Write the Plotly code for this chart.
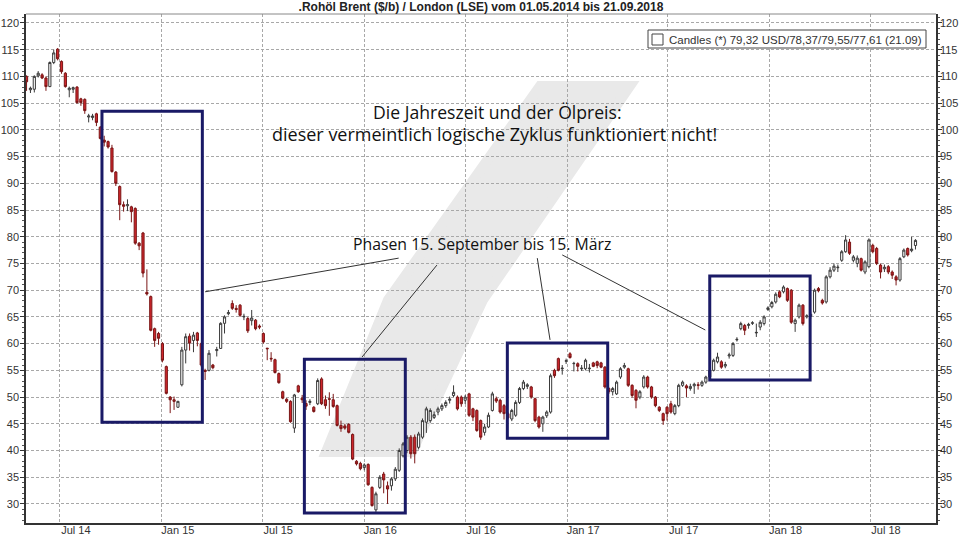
import pandas as pd
import plotly.graph_objects as go

# ---------------- data (weekly candles) ----------------
opens = [110, 107.5, 107.6, 110.1, 110.3, 109.7, 108.1, 112.6, 115.1, 112.8,
         110.6, 107.5, 107.6, 108, 105.8, 105.7, 102.4, 102.3, 103, 100.5,
         98.1, 97.8, 96.6, 92.1, 89.4, 86, 85.8, 85.6, 85.3, 78.8,
         80.7, 69.6, 68.8, 62.8, 61.9, 60, 55.7, 50, 49.5, 48.1,
         52.3, 58.8, 61.4, 60.6, 62, 60, 55, 55, 56, 58.7,
         59.1, 63.8, 65.6, 67.5, 66.6, 67.2, 65, 64.7, 64.3, 64.4,
         63.3, 61.9, 59.15, 57.25, 57, 54.4, 51, 49.6, 49.2, 44.2,
         52.1, 49.8, 48.8, 49, 48.1, 48.75, 53.4, 49.5, 49.7, 49.5,
         48.4, 44.7, 44.6, 44.9, 43, 38, 37.6, 36.8, 37.4, 33.1,
         28.9, 33.1, 35.6, 33.4, 33.4, 34.7, 36.3, 39, 40, 42.5,
         42.5, 40.6, 42.5, 45.3, 45.6, 46.2, 47.2, 47.8, 48.4, 49.4,
         50.3, 50, 50, 49.4, 50.6, 47.8, 47.5, 45.6, 43.4, 44.4,
         47.5, 49.7, 49.4, 48.4, 46.9, 45.9, 46.6, 49, 51.6, 52,
         51.9, 49.7, 46.25, 45, 46.5, 47.2, 55, 57.2, 55.3, 56.7,
         58.1, 56.25, 56.25, 55.3, 55.3, 55.3, 56.4, 56.6, 56.4, 55.6,
         51.6, 51, 50.6, 53.75, 55.6, 55.3, 52.2, 51.25, 50, 51.9,
         53.75, 51.9, 50, 48.1, 46.9, 48.1, 48.75, 46.9, 48.4, 52.2,
         52.1, 51.6, 52.1, 52.3, 52.2, 52.8, 53.75, 55, 56.6, 56.6,
         55.8, 57.7, 57.8, 60.7, 62.8, 63.4, 63.4, 63.8, 62, 63.1,
         63.75, 66.4, 66.9, 67.8, 69.7, 69.7, 70.3, 70, 63.75, 65,
         67.2, 65, 65.1, 65.9, 70.3, 68.1, 67.8, 72.5, 73.75, 74.2,
         75.6, 77.2, 79, 75.6, 75, 75.9, 73.4, 74.4, 78.4, 77.8,
         74.7, 74, 74.4, 73.4, 72.5, 71.9, 76.25, 77.8, 77.4, 78.37]
highs = [110.2, 108.1, 110.2, 111, 110.6, 110, 112.8, 115, 115.3, 113,
         110.8, 108.1, 108.1, 108.2, 106, 105.9, 103, 103, 103.2, 100.7,
         98.9, 98, 97.2, 92.3, 89.6, 86.6, 87, 85.8, 85.5, 79,
         80.9, 73.9, 69, 63, 62.2, 60.3, 55.9, 50.2, 50.1, 49.3,
         59.4, 61.9, 61.9, 62.2, 62.2, 60.2, 55.3, 58.8, 56.2, 59.4,
         64, 65.3, 66.3, 68.1, 67.2, 67.4, 65.6, 65, 66.3, 64.6,
         63.6, 62.1, 59.2, 58.4, 57.2, 54.6, 51.2, 49.8, 49.4, 50.6,
         52.3, 50.4, 49.4, 49.6, 48.3, 53.5, 53.7, 50.3, 50.9, 50.6,
         48.6, 45.6, 45, 45.1, 43.2, 38.2, 37.9, 37.6, 37.6, 33.3,
         32.3, 35.4, 36, 34.2, 35, 36.9, 40.4, 41.6, 42.9, 42.9,
         43, 43.5, 46, 48.2, 47.9, 47.3, 48.2, 48.8, 49.4, 50.1,
         52.2, 50.3, 50.3, 50.4, 50.8, 48, 47.7, 45.8, 45, 47.1,
         51, 50.1, 49.7, 48.7, 47.2, 47.8, 49.4, 51.9, 53.2, 52.6,
         52.1, 49.9, 46.5, 46.5, 47.5, 54.4, 55.3, 57.4, 56, 57.2,
         58.4, 56.6, 56.5, 56, 57.2, 56.2, 56.6, 56.8, 56.6, 55.8,
         51.9, 51.9, 53.1, 55.6, 56.4, 55.5, 52.4, 51.5, 51.3, 54.1,
         54, 52.1, 50.2, 48.3, 47.1, 48.3, 49.3, 48.7, 52.5, 53.1,
         52.4, 52.5, 52.7, 52.8, 53.1, 54, 55.3, 57.2, 58.3, 56.9,
         56.6, 58.3, 60.3, 61.2, 64.1, 63.7, 63.9, 64.2, 63.75, 64.4,
         65.3, 67, 68, 69.6, 70, 70.9, 70.5, 70.2, 64.7, 67.5,
         67.4, 65.5, 66, 70.3, 70.6, 68.4, 72.8, 74.3, 75, 74.8,
         77.5, 80.3, 79.6, 76.6, 76.5, 76.1, 75.6, 79.7, 78.7, 78.1,
         75, 74.8, 74.7, 73.7, 72.8, 76.2, 77.8, 78, 80, 79.55]
lows = [107.3, 106.9, 107, 109.8, 109.5, 107.3, 108, 112.3, 113, 110.5,
        107.9, 106.1, 106.9, 104.9, 104.5, 103, 101.4, 101.8, 100.7, 98.2,
        96.9, 96.5, 92, 89.5, 83.1, 84.7, 84.8, 82.7, 78.5, 77.5,
        72.4, 69, 62.3, 59.4, 59.8, 56.5, 50.5, 47, 47.6, 48,
        52, 56.3, 58.7, 58.4, 59.5, 55.7, 53.2, 54.8, 55.2, 57.6,
        59, 61.9, 65.3, 66.3, 65.8, 65, 64.4, 62, 63.4, 62.5,
        62.7, 60, 56.9, 56.6, 54.4, 52.5, 49.6, 48.9, 45.2, 43.3,
        50.8, 48.9, 47.6, 48.5, 47.1, 48.5, 48.5, 47.8, 46.5, 48,
        44.5, 43.5, 43.9, 43.2, 38.2, 37.2, 36.3, 36.3, 33.4, 29.5,
        28.4, 32.8, 32, 30, 32.5, 34.3, 36, 38.7, 39.5, 38.5,
        37.6, 40.2, 42.2, 43.3, 45.2, 45.9, 46.6, 47.4, 48, 48.8,
        50, 47.5, 48.2, 48.7, 46.3, 45.5, 43.5, 42, 42.8, 44.2,
        47.3, 48.9, 46.9, 45.8, 45.8, 45.5, 46.3, 48.7, 51.3, 51.5,
        49.7, 45.3, 44.1, 43.5, 46.1, 46.9, 53.6, 54.8, 54.2, 56.2,
        57.2, 54.8, 54.8, 54.9, 55, 54.6, 55.6, 55.4, 55.4, 51.6,
        50.6, 50.3, 50.4, 53.4, 55.3, 51.9, 49.9, 47.9, 49.6, 51.6,
        51.6, 49.7, 48.1, 47.2, 44.8, 45.6, 46.9, 46.6, 48.1, 51.9,
        50, 51.2, 50.6, 51.4, 51.9, 52.5, 53.5, 54.8, 56.3, 55.3,
        55.4, 57.2, 57.5, 60.4, 62.5, 61.6, 62.8, 63.5, 61.25, 62.5,
        63.4, 66.1, 66.6, 67.5, 68.5, 69.4, 67.8, 63.7, 62.2, 64.7,
        63.4, 64.7, 64.6, 65.6, 69.6, 67.3, 67.5, 72.2, 73.4, 73.4,
        75.3, 77, 76.6, 75.2, 74.3, 73.5, 73, 74.1, 76.9, 74.7,
        72.2, 73.4, 73, 72.1, 70.9, 71.6, 76, 76.3, 77.1, 77.61]
closes = [109, 107.8, 110, 110.6, 109.7, 108.1, 112.6, 114.4, 113.3, 110.9,
          108.1, 107.8, 107.9, 105.1, 105.1, 103.6, 102.6, 102.6, 101.4, 98.4,
          97.7, 96.8, 92.2, 90, 86, 85.7, 86, 84.7, 78.8, 78.3,
          73.2, 69.3, 62.5, 60.6, 61, 56.9, 50.7, 49.5, 49.2, 49.2,
          58.8, 61.3, 60.1, 61.6, 60.6, 56, 54.8, 58.2, 55.5, 58.9,
          63.8, 65, 65.8, 66.6, 66.4, 65.3, 65.1, 62.4, 64.8, 62.8,
          63.1, 60.3, 59.05, 57.15, 54.6, 52.7, 49.8, 49.2, 45.4, 50.4,
          51, 49.5, 48.3, 49.2, 47.3, 53.1, 48.75, 48.4, 49.6, 48.25,
          44.7, 44.1, 44.2, 43.4, 38.4, 37.5, 36.6, 37.3, 33.6, 29.7,
          31.9, 35, 34.5, 32.8, 34.7, 36.5, 40, 41.25, 42.5, 39.4,
          39.4, 43.1, 45.6, 47.8, 47.5, 46.7, 47.8, 48.4, 49, 49.6,
          50.9, 47.8, 48.75, 50, 46.6, 46.25, 43.75, 42.5, 44.4, 46.6,
          50.6, 49.25, 47.2, 46.9, 46.1, 47.5, 49, 51.6, 52.8, 52.3,
          50, 45.6, 44.4, 46.25, 47.2, 54, 54, 55, 55.4, 56.8,
          57.4, 56.3, 55.75, 55.4, 56.9, 55.4, 55.75, 55.9, 55.6, 51.9,
          51, 51.6, 52.8, 55.3, 55.9, 52.2, 50.3, 49.4, 51, 53.75,
          51.9, 50, 48.4, 47.5, 45.6, 46.9, 47.2, 48.4, 52.2, 52.8,
          51.7, 52, 52.4, 52.2, 52.8, 53.75, 55, 56.9, 57.5, 55.6,
          56.1, 57.9, 60, 60.8, 63.75, 62.5, 63.6, 63.9, 62.1, 64,
          65, 66.7, 67.7, 69.25, 68.75, 70.6, 68.1, 64, 64.4, 67.2,
          63.75, 65.2, 65.5, 70, 69.9, 67.6, 72.5, 73.75, 74.5, 74.3,
          77.2, 79.4, 76.9, 76.25, 76, 73.75, 75.3, 79.4, 77.2, 75,
          73.4, 74.3, 73.4, 72.8, 71.9, 75.9, 77.5, 76.6, 77.7, 79.32]

week_dates = pd.date_range(end="2018-09-21", periods=len(closes), freq="7D")

# axis ticks
x_tick_dates = ["2014-07-01", "2015-01-01", "2015-07-01", "2016-01-01", "2016-07-01",
                "2017-01-01", "2017-07-01", "2018-01-01", "2018-07-01"]
x_tick_labels = ["Jul 14", "Jan 15", "Jul 15", "Jan 16", "Jul 16",
                 "Jan 17", "Jul 17", "Jan 18", "Jul 18"]
y_ticks = list(range(30, 121, 5))

# annotation phases (15. September bis 15. März)
phase_starts = ["2014-09-15", "2015-09-15", "2016-09-15", "2017-09-15"]
phase_ends = ["2015-03-15", "2016-03-15", "2017-03-15", "2018-03-15"]
phase_tops = [103.5, 57.1, 60.1, 72.65]
phase_bottoms = [45.3, 28.3, 42.3, 53.2]

# pointer lines from label to boxes
ptr_x0 = ["2015-03-20", "2015-12-28", "2016-11-08", "2016-12-23"]
ptr_y0 = [69.7, 57.5, 76.0, 76.6]
ptr_x1 = ["2016-03-03", "2016-05-11", "2016-12-01", "2017-09-07"]
ptr_y1 = [76.0, 74.7, 60.7, 62.55]

legend_text = "Candles (*) 79,32 USD/78,37/79,55/77,61 (21.09)"
title_text = ".Rohöl Brent ($/b) / London (LSE) vom 01.05.2014 bis 21.09.2018"

# ---------------- figure ----------------
W, H = 960, 540
ML, MR, MT, MB = 26, 24, 14, 17
PW, PH = W - ML - MR, H - MT - MB


def px(xp):
    return (xp - ML) / PW


def py(yp):
    return (H - MB - yp) / PH


fig = go.Figure()
fig.add_trace(go.Candlestick(
    x=week_dates, open=opens, high=highs, low=lows, close=closes,
    increasing=dict(fillcolor="#ffffff", line=dict(color="#3a3a3a", width=1)),
    decreasing=dict(fillcolor="#d0262c", line=dict(color="#7a1616", width=1)),
    whiskerwidth=0, showlegend=False, hoverinfo="skip",
))
# invisible helper to draw the right-hand axis
fig.add_trace(go.Scatter(x=week_dates, y=closes, yaxis="y2", mode="lines",
                         line=dict(width=0, color="rgba(0,0,0,0)"),
                         showlegend=False, hoverinfo="skip"))

shapes = []
# watermark band (light grey, behind grid)
wm = [(540, 86), (630, 86), (483, 300), (412, 452), (326, 452), (388, 300)]
path = "M " + " L ".join("{} {}".format(px(a), py(b)) for a, b in wm) + " Z"
shapes.append(dict(type="path", xref="paper", yref="paper", path=path,
                   fillcolor="#e9e9e9", line=dict(color="#e9e9e9", width=10),
                   layer="below"))

for s, e, t, b in zip(phase_starts, phase_ends, phase_tops, phase_bottoms):
    shapes.append(dict(type="rect", xref="x", yref="y", x0=s, x1=e, y0=b, y1=t,
                       line=dict(color="#1a1a66", width=3), fillcolor="rgba(0,0,0,0)",
                       layer="above"))
for a, b, c, d in zip(ptr_x0, ptr_y0, ptr_x1, ptr_y1):
    shapes.append(dict(type="line", xref="x", yref="y", x0=a, y0=b, x1=c, y1=d,
                       line=dict(color="#333333", width=1), layer="above"))

# thin grey top frame line
shapes.append(dict(type="line", xref="paper", yref="paper", x0=0, x1=1, y0=1, y1=1,
                   line=dict(color="#888888", width=1), layer="above"))

# legend box
shapes.append(dict(type="rect", xref="paper", yref="paper",
                   x0=px(648), x1=px(926), y0=py(48), y1=py(30),
                   line=dict(color="#444444", width=1), fillcolor="#ffffff", layer="above"))
shapes.append(dict(type="rect", xref="paper", yref="paper",
                   x0=px(652), x1=px(663), y0=py(45), y1=py(34),
                   line=dict(color="#444444", width=1), fillcolor="#ffffff", layer="above"))

annotations = [
    dict(text=legend_text, xref="paper", yref="paper", x=px(667), y=py(39.5),
         xanchor="left", yanchor="middle", showarrow=False,
         font=dict(family="Liberation Sans, Arial", size=11.5, color="#333333")),
    dict(text="Die Jahreszeit und der Ölpreis:", xref="paper", yref="paper",
         x=px(497), y=py(112), xanchor="center", yanchor="middle", showarrow=False,
         font=dict(family="Open Sans", size=17.6, color="#111111")),
    dict(text="dieser vermeintlich logische Zyklus funktioniert nicht!", xref="paper",
         yref="paper", x=px(495), y=py(134), xanchor="center", yanchor="middle",
         showarrow=False, font=dict(family="Open Sans", size=18, color="#111111")),
    dict(text="Phasen 15. September bis 15. März", xref="paper", yref="paper",
         x=px(482), y=py(244), xanchor="center", yanchor="middle", showarrow=False,
         font=dict(family="Open Sans", size=15.8, color="#111111")),
]

tickfont = dict(family="Liberation Sans, Arial", size=11, color="#333333")
yaxis_common = dict(
    range=[26.44, 121.68], tickvals=y_ticks, ticktext=[str(v) for v in y_ticks],
    ticks="outside", ticklen=4, tickcolor="#333333", tickfont=tickfont,
    showline=True, linecolor="#333333", linewidth=1.5,
    minor=dict(dtick=1, ticklen=2, tickcolor="#555555", ticks="outside", showgrid=False),
    zeroline=False, fixedrange=True, automargin=False,
)

fig.update_layout(
    width=W, height=H,
    margin=dict(l=ML, r=MR, t=MT, b=MB, autoexpand=False),
    paper_bgcolor="#ffffff", plot_bgcolor="#ffffff",
    boxgap=0.2,
    title=dict(text="<b>" + title_text + "</b>", x=0.5, xanchor="center",
               xref="paper", y=1 - 6.5 / H, yref="container", yanchor="middle",
               font=dict(family="Liberation Sans, Arial", size=12, color="#222222")),
    xaxis=dict(
        type="date", range=["2014-05-01", "2018-10-28"],
        tickvals=x_tick_dates, ticktext=x_tick_labels,
        ticks="", tickfont=tickfont,
        ticklabelshift=16, ticklabelstandoff=-4,
        showgrid=True, gridcolor="#a8a8a8", gridwidth=1, griddash="3px,2px",
        showline=True, linecolor="#333333", linewidth=1.5, mirror=False,
        rangeslider=dict(visible=False), zeroline=False, fixedrange=True,
        automargin=False,
    ),
    yaxis=dict(side="left", showgrid=True, gridcolor="#a8a8a8", gridwidth=1,
               griddash="3px,2px", ticklabelstandoff=-1, **yaxis_common),
    yaxis2=dict(side="right", overlaying="y", showgrid=False, ticklabelstandoff=-4,
                **yaxis_common),
    shapes=shapes, annotations=annotations,
    showlegend=False,
)

fig.write_html("out.html", config={"displayModeBar": False},
               post_script="document.body.style.margin='0';document.body.style.padding='0';")
